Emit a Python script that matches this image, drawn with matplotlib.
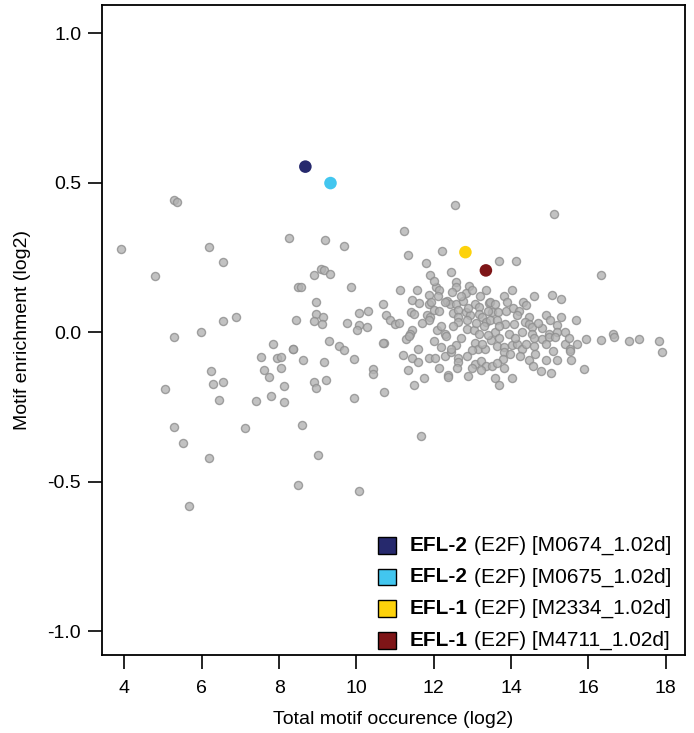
import numpy as np
import matplotlib
matplotlib.use("Agg")
import matplotlib.pyplot as plt
from matplotlib.offsetbox import (AnchoredOffsetbox, DrawingArea, HPacker,
                                  TextArea, VPacker)
from matplotlib.patches import Rectangle

plt.rcParams['font.family'] = ['Liberation Sans', 'DejaVu Sans']
plt.rcParams['axes.unicode_minus'] = False

# background motifs: (total occurence log2, enrichment log2)
bg_x = [3.92, 4.78, 5.27, 5.37, 6.18, 6.56, 8.26, 8.50, 6.88, 6.54, 8.43, 5.99,
        5.27, 7.84, 8.36, 7.54, 7.94, 8.05, 6.24, 7.62, 8.06, 7.75, 6.30, 6.56,
        5.06, 8.14, 7.80, 6.44, 7.40, 8.14, 5.27, 7.13, 5.51, 6.18, 8.49, 5.66,
        12.55, 11.24, 9.20, 9.67, 12.22, 11.33, 11.80, 9.08, 9.17, 9.31, 8.91,
        12.45, 8.57, 9.87, 11.14, 11.56, 12.05, 12.14, 12.58, 12.58, 12.91,
        12.48, 12.83, 11.88, 8.95, 10.68, 11.45, 11.62, 11.89, 11.94, 12.34,
        12.43, 12.58, 12.77, 13.08, 13.16, 13.42,
        8.95, 9.13, 8.91, 9.11, 10.07, 10.31, 9.76, 10.06, 10.02, 10.28, 10.76,
        10.88, 10.99, 11.41, 11.82, 11.91, 11.87, 12.00, 12.13, 12.49, 12.64,
        12.64, 12.64, 12.83, 12.95, 13.16, 13.25, 13.35, 11.43, 11.39, 12.08,
        12.30, 12.86, 13.03, 13.16,
        8.35, 8.61, 9.29, 9.56, 9.69, 9.16, 9.93, 10.71, 10.44, 10.43, 8.91,
        8.95, 9.21, 9.95, 10.72, 8.60, 11.67, 9.00, 10.06,
        10.70, 11.28, 11.35, 11.59, 11.20, 11.43, 11.87, 12.04, 12.30, 12.45,
        12.58, 12.45, 12.32, 12.64, 12.64, 13.08, 13.15, 13.32, 13.25, 13.06,
        13.23, 13.35, 13.23, 11.33, 12.13, 12.38, 12.38, 11.74, 12.90, 11.50,
        14.02, 13.81, 15.06, 15.30, 13.46, 13.59, 13.51, 13.66, 13.87, 14.05,
        14.21, 14.15, 14.47, 14.90, 15.30, 15.68, 13.46, 13.64, 13.85, 14.07,
        14.37, 14.46, 14.54, 14.80, 15.19, 15.19, 13.59, 13.94, 14.28, 14.54,
        14.97,
        15.12, 13.69, 14.12, 16.34,
        15.95, 16.34, 16.63, 16.67, 17.06, 17.30, 17.82, 17.91,
        13.49, 13.64, 13.83, 13.81, 13.98, 13.78, 14.02, 14.15, 14.28, 14.40,
        14.59, 14.61, 14.24, 14.46, 14.80, 14.97, 15.13, 15.39, 15.53, 15.53,
        15.08, 14.91, 15.19, 15.56, 13.51, 13.64, 13.83, 14.57, 14.78, 15.03,
        15.90, 13.59, 14.02, 13.69,
        13.30, 13.40, 13.20, 13.35, 13.00, 12.70, 12.20, 12.50, 12.70, 13.00,
        12.85, 12.20, 12.00, 11.70, 11.60, 12.85, 13.40, 13.70, 14.30, 14.60,
        14.40, 13.10, 12.30, 12.10, 11.90, 12.00, 11.10, 11.50, 13.70, 14.10,
        14.60, 14.70, 15.40, 15.50, 15.70, 15.00, 14.90, 13.90, 12.90, 12.60,
        13.00]
bg_y = [0.277, 0.187, 0.444, 0.437, 0.285, 0.236, 0.317, 0.150, 0.050, 0.039,
        0.042, 0.001, -0.016, -0.040, -0.056, -0.084, -0.087, -0.084, -0.129,
        -0.126, -0.120, -0.150, -0.174, -0.166, -0.188, -0.178, -0.212, -0.226,
        -0.230, -0.234, -0.315, -0.320, -0.369, -0.420, -0.510, -0.581,
        0.427, 0.339, 0.308, 0.289, 0.273, 0.259, 0.233, 0.211, 0.210, 0.195,
        0.190, 0.202, 0.150, 0.153, 0.140, 0.141, 0.150, 0.141, 0.168, 0.152,
        0.154, 0.135, 0.131, 0.126, 0.101, 0.096, 0.107, 0.099, 0.096, 0.101,
        0.104, 0.093, 0.093, 0.104, 0.096, 0.085, 0.099,
        0.062, 0.051, 0.037, 0.027, 0.065, 0.070, 0.031, 0.026, 0.007, 0.018,
        0.059, 0.040, 0.027, 0.068, 0.059, 0.051, 0.042, 0.074, 0.070, 0.065,
        0.074, 0.051, 0.034, 0.068, 0.057, 0.062, 0.051, 0.034, 0.007, -0.004,
        0.007, -0.004, 0.012, 0.007, -0.004,
        -0.056, -0.094, -0.030, -0.047, -0.060, -0.100, -0.089, -0.036, -0.124,
        -0.138, -0.165, -0.185, -0.160, -0.221, -0.200, -0.309, -0.347, -0.411,
        -0.532,
        -0.035, -0.021, -0.013, -0.055, -0.077, -0.086, -0.086, -0.086, -0.080,
        -0.066, -0.043, -0.057, -0.013, -0.086, -0.099, -0.035, -0.055, -0.055,
        -0.038, -0.105, -0.097, -0.113, -0.127, -0.127, -0.119, -0.142, -0.149,
        -0.153, -0.147, -0.177,
        0.140, 0.121, 0.124, 0.113, 0.101, 0.094, 0.068, 0.068, 0.071, 0.081,
        0.071, 0.059, 0.051, 0.057, 0.051, 0.040, 0.040, 0.042, 0.029, 0.027,
        0.034, 0.029, 0.018, 0.016, 0.023, 0.001, 0.000, -0.004, 0.000, -0.004,
        -0.004,
        0.396, 0.238, 0.237, 0.192,
        -0.021, -0.025, -0.004, -0.016, -0.030, -0.021, -0.030, -0.067,
        -0.027, -0.046, -0.049, -0.066, -0.074, -0.088, -0.043, -0.038, -0.057,
        -0.038, -0.046, -0.074, -0.079, -0.091, -0.021, -0.016, -0.016, -0.038,
        -0.055, -0.064, -0.064, -0.091, -0.091, -0.091, -0.114, -0.103, -0.121,
        -0.114, -0.130, -0.135, -0.124, -0.152, -0.152, -0.175,
        0.020, -0.010, 0.120, 0.140, 0.140, 0.120, 0.020, 0.020, -0.020, -0.060,
        -0.080, -0.050, -0.030, 0.030, -0.100, 0.040, 0.070, 0.020, 0.100,
        0.120, 0.090, 0.030, 0.100, 0.120, 0.190, 0.170, 0.030, 0.060, -0.020,
        -0.020, -0.020, 0.030, 0.000, -0.020, -0.040, 0.040, -0.040, 0.100,
        0.080, -0.120, -0.120]

# highlighted motifs
hl_name = ['EFL-2', 'EFL-2', 'EFL-1', 'EFL-1']
hl_rest = ['(E2F) [M0674_1.02d]', '(E2F) [M0675_1.02d]',
           '(E2F) [M2334_1.02d]', '(E2F) [M4711_1.02d]']
hl_x = [8.68, 9.33, 12.82, 13.35]
hl_y = [0.554, 0.499, 0.268, 0.207]
hl_col = ['#26296d', '#42c6ef', '#fdd20b', '#7e1517']

fig = plt.figure(figsize=(6.94, 7.33), dpi=100)
ax = fig.add_axes([0.147, 0.106, 0.840, 0.887])

ax.scatter(bg_x, bg_y, s=34, facecolor='#b3b3b3', edgecolor='#8e8e8e',
           linewidth=1.0, alpha=0.8, zorder=2)
ax.scatter(hl_x, hl_y, s=82, c=hl_col, linewidth=0, zorder=3)

ax.set_xlim(3.42, 18.5)
ax.set_ylim(-1.08, 1.094)
ax.set_xticks(np.arange(4, 19, 2))
ax.set_yticks([-1.0, -0.5, 0.0, 0.5, 1.0])
ax.set_yticklabels(['-1.0', '-0.5', '0.0', '0.5', '1.0'])
ax.tick_params(direction='out', length=10, width=1.2, labelsize=14, pad=5)
ax.tick_params(axis='x', pad=8)
for sp in ax.spines.values():
    sp.set_linewidth(1.3)

ax.set_xlabel('Total motif occurence (log2)', fontsize=14, labelpad=10)
ax.set_ylabel('Motif enrichment (log2)', fontsize=14, labelpad=12)

rows = []
for name, rest, col in zip(hl_name, hl_rest, hl_col):
    da = DrawingArea(13, 12, 0, 0)
    da.add_artist(Rectangle((0, 0), 13, 12, facecolor=col, edgecolor='black',
                            linewidth=1.0))
    t1 = TextArea(name, textprops=dict(fontsize=15, fontweight='bold'))
    t2 = TextArea(rest, textprops=dict(fontsize=15))
    txt = HPacker(children=[t1, t2], align='baseline', pad=0, sep=4)
    rows.append(HPacker(children=[da, txt], align='center', pad=0, sep=10))
leg = VPacker(children=rows, align='left', pad=0, sep=9)
anch = AnchoredOffsetbox(loc='lower right', child=leg, frameon=False,
                         borderpad=0.0, pad=0.0,
                         bbox_to_anchor=(0.976, 0.008),
                         bbox_transform=ax.transAxes)
ax.add_artist(anch)

fig.savefig('out.png', dpi=100)
